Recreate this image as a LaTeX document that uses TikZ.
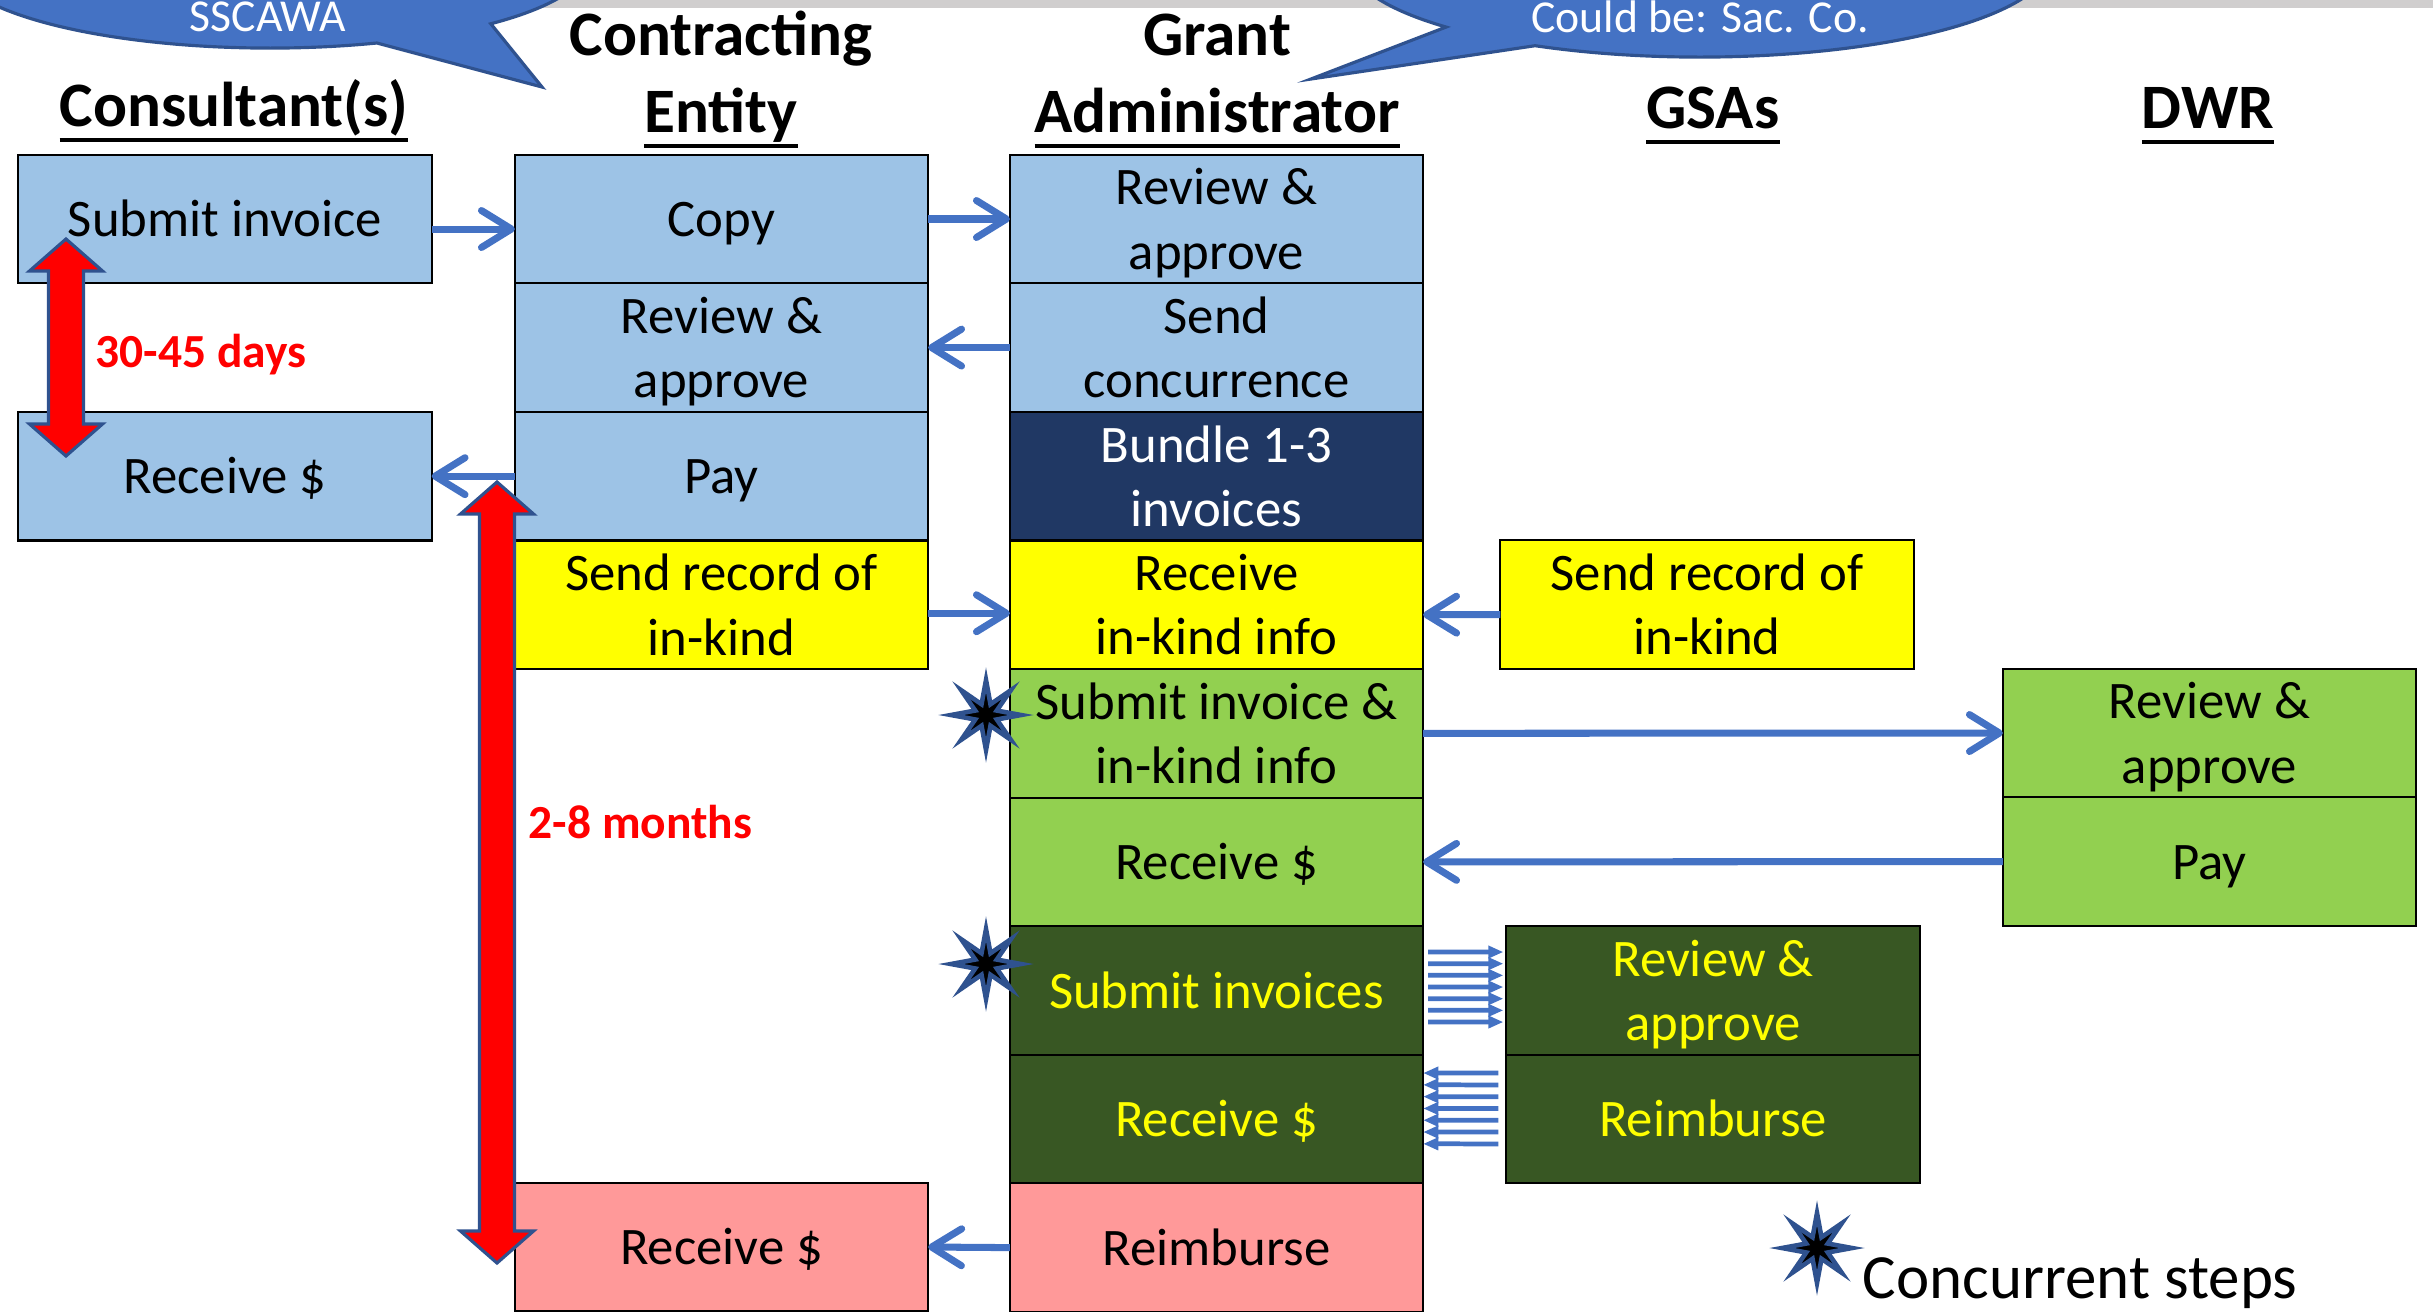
\documentclass[tikz,border=0pt]{standalone}
\usepackage{fontspec}
\setmainfont{Carlito}
\usetikzlibrary{positioning,arrows.meta,shapes.geometric,calc}

\definecolor{stepblue}{RGB}{157,195,230}
\definecolor{stepnavy}{RGB}{32,56,100}
\definecolor{stepyellow}{RGB}{255,255,0}
\definecolor{steplime}{RGB}{146,208,80}
\definecolor{stepforest}{RGB}{56,87,35}
\definecolor{steppink}{RGB}{255,153,153}
\definecolor{flowblue}{RGB}{68,114,196}
\definecolor{edgeblue}{RGB}{47,82,143}
\definecolor{bargrey}{RGB}{208,206,206}

% heading underline, a bit heavier than \underline
\newcommand\hdul[1]{\setbox0\hbox{#1}\rlap{\rule[-4.6pt]{\wd0}{1.1pt}}\box0}

% red two-headed span arrow: x, top tip, bottom tip
\newcommand\spanarrow[3]{%
  \draw[lapsearrow] (#1,#2) -- ({#1+36.5},{#2+32}) -- ({#1+17.5},{#2+32})
    -- ({#1+17.5},{#3-32}) -- ({#1+36.5},{#3-32}) -- (#1,#3)
    -- ({#1-36.5},{#3-32}) -- ({#1-17.5},{#3-32}) -- ({#1-17.5},{#2+32})
    -- ({#1-36.5},{#2+32}) -- cycle;}

\begin{document}
\begin{tikzpicture}[
        x=0.01cm, y=-0.01cm,
        stepbox/.style={draw, line width=0.6pt, minimum width=4.13cm, minimum height=1.285cm,
          inner sep=0, outer sep=0, align=center, font=\fontsize{15}{18.3}\selectfont},
        flat/.style={text height=10pt, text depth=0pt},
        bluestep/.style={stepbox, fill=stepblue},
        navystep/.style={stepbox, fill=stepnavy, text=white},
        yellowstep/.style={stepbox, fill=stepyellow},
        limestep/.style={stepbox, fill=steplime},
        foreststep/.style={stepbox, fill=stepforest, text=stepyellow},
        pinkstep/.style={stepbox, fill=steppink},
        colhead/.style={font=\fontsize{18}{22}\selectfont\bfseries, anchor=base, inner sep=0},
        flow/.style={draw=flowblue, line width=2pt, -{Straight Barb[length=8.5pt,width=10.5pt,round]}},
        bundle/.style={draw=flowblue, line width=1.35pt, -{Triangle[length=4.3pt,width=3.4pt]}},
        lapsearrow/.style={fill=red, draw=edgeblue, line width=0.9pt},
        lapse/.style={font=\fontsize{13.5}{16}\selectfont\bfseries, text=red, anchor=west, inner sep=0},
        concur/.style={star, star points=8, star point ratio=3, minimum size=0.7cm,
          inner sep=0, fill=black, draw=edgeblue, line width=1.3pt},
        bubble/.style={fill=flowblue, draw=edgeblue, line width=0.9pt},
        bubbletext/.style={font=\fontsize{13}{15.6}\selectfont, text=white, anchor=base, inner sep=0}]
    \useasboundingbox (0,0) rectangle (2433,1311);
    \clip (0,0) rectangle (2433,1311);
    \fill[bargrey] (0,0) rectangle (2433,8);

    % speech bubbles
    \coordinate (lc) at (270,-40);
    \coordinate (rc) at (1700,-40);
    \draw[bubble] ($(lc)+(-46.4:3.2cm and 0.88cm)$) -- (542,87)
        -- ($(lc)+(-70.5:3.2cm and 0.88cm)$)
        arc[start angle=-70.5, end angle=-406.4, x radius=3.2cm, y radius=0.88cm] -- cycle;
    \draw[bubble] ($(rc)+(-136.3:3.51cm and 0.97cm)$) -- (1311,79)
        -- ($(rc)+(-118:3.51cm and 0.97cm)$)
        arc[start angle=-118, end angle=223.7, x radius=3.51cm, y radius=0.97cm] -- cycle;
    \node[bubbletext] (sscawa) at (268,31) {SSCAWA};
    \node[bubbletext] (sacco) at (1700,32) {Could be: Sac. Co.};

    % column headings
    \node[colhead] (hcons) at (234,126) {\hdul{Consultant(s)}};
    \node[colhead] (hce1) at (721,55) {Contracting};
    \node[colhead] (hce2) at (721,132) {\hdul{Entity}};
    \node[colhead] (hga1) at (1217,55) {Grant};
    \node[colhead] (hga2) at (1217,132) {\hdul{Administrator}};
    \node[colhead] (hgsa) at (1713,128) {\hdul{GSAs}};
    \node[colhead] (hdwr) at (2208,128) {\hdul{DWR}};

    % consultant
    \node[bluestep, flat] (cons1) at (225,219) {Submit invoice};
    \node[bluestep, flat, below=1.285cm of cons1] (cons2) {Receive \$};

    % contracting entity
    \node[bluestep, flat] (ce1) at (721.5,219) {Copy};
    \node[bluestep, below=0pt of ce1] (ce2) {Review \&\\\smash{approve}};
    \node[bluestep, flat, below=0pt of ce2] (ce3) {Pay};
    \node[yellowstep, below=0pt of ce3] (ce4) {Send record of\\in-kind};
    \node[pinkstep, flat] (ce9) at (721.5,1247) {Receive \$};

    % grant administrator
    \node[bluestep] (ga1) at (1216.5,219) {Review \&\\\smash{approve}};
    \node[bluestep, below=0pt of ga1] (ga2) {Send\\concurrence};
    \node[navystep, below=0pt of ga2] (ga3) {Bundle 1-3\\invoices};
    \node[yellowstep, below=0pt of ga3] (ga4) {Receive\\in-kind info};
    \node[limestep, below=0pt of ga4] (ga5) {Submit invoice \&\\in-kind info};
    \node[limestep, flat, below=0pt of ga5] (ga6) {Receive \$};
    \node[foreststep, flat, below=0pt of ga6] (ga7) {Submit invoices};
    \node[foreststep, flat, below=0pt of ga7] (ga8) {Receive \$};
    \node[pinkstep, flat, below=0pt of ga8] (ga9) {Reimburse};

    % GSAs
    \node[yellowstep] (gsa4) at (1707,604.5) {Send record of\\in-kind};
    \node[foreststep] (gsa7) at (1713,990.5) {Review \&\\\smash{approve}};
    \node[foreststep, flat, below=0pt of gsa7] (gsa8) {Reimburse};

    % DWR
    \node[limestep] (dwr5) at (2209.5,733) {Review \&\\\smash{approve}};
    \node[limestep, flat, below=0pt of dwr5] (dwr6) {Pay};

    % hand-offs
    \draw[flow] ([yshift=-0.1cm]cons1.east) -- ([yshift=-0.1cm]ce1.west);
    \draw[flow] (ce1.east) -- (ga1.west);
    \draw[flow] (ga2.west) -- (ce2.east);
    \draw[flow] (ce3.west) -- (cons2.east);
    \draw[flow] ([yshift=-0.085cm]ce4.east) -- ([yshift=-0.085cm]ga4.west);
    \draw[flow] ([yshift=-0.1cm]gsa4.west) -- ([yshift=-0.1cm]ga4.east);
    \draw[flow] (ga5.east) -- (dwr5.west);
    \draw[flow] (dwr6.west) -- (ga6.east);
    \draw[flow] (ga9.west) -- (ce9.east);
    \foreach \k in {0,...,6}
        \draw[bundle] ($(ga7.east)+(5,{-38.5+11.67*\k})$) -- ($(gsa7.west)+(-3,{-38.5+11.67*\k})$);
    \foreach \k in {0,...,6}
        \draw[bundle] ($(gsa8.west)+(-8,{-46+11.8*\k})$) -- ($(ga8.east)+(0,{-46+11.8*\k})$);

    % elapsed time
    \spanarrow{66}{239}{456}
    \spanarrow{497}{482}{1263}
    \node[lapse] (days) at (95,355) {30-45 days};
    \node[lapse] (months) at (528,822) {2-8 months};

    % concurrent steps
    \node[concur] (star1) at (986,715) {};
    \node[concur] (star2) at (986,964) {};
    \node[concur] (star3) at (1817,1248) {};
    \node[font=\fontsize{17.9}{21.5}\selectfont, anchor=base west, inner sep=0] (concurtxt) at (1862,1298) {Concurrent steps};
\end{tikzpicture}
\end{document}
